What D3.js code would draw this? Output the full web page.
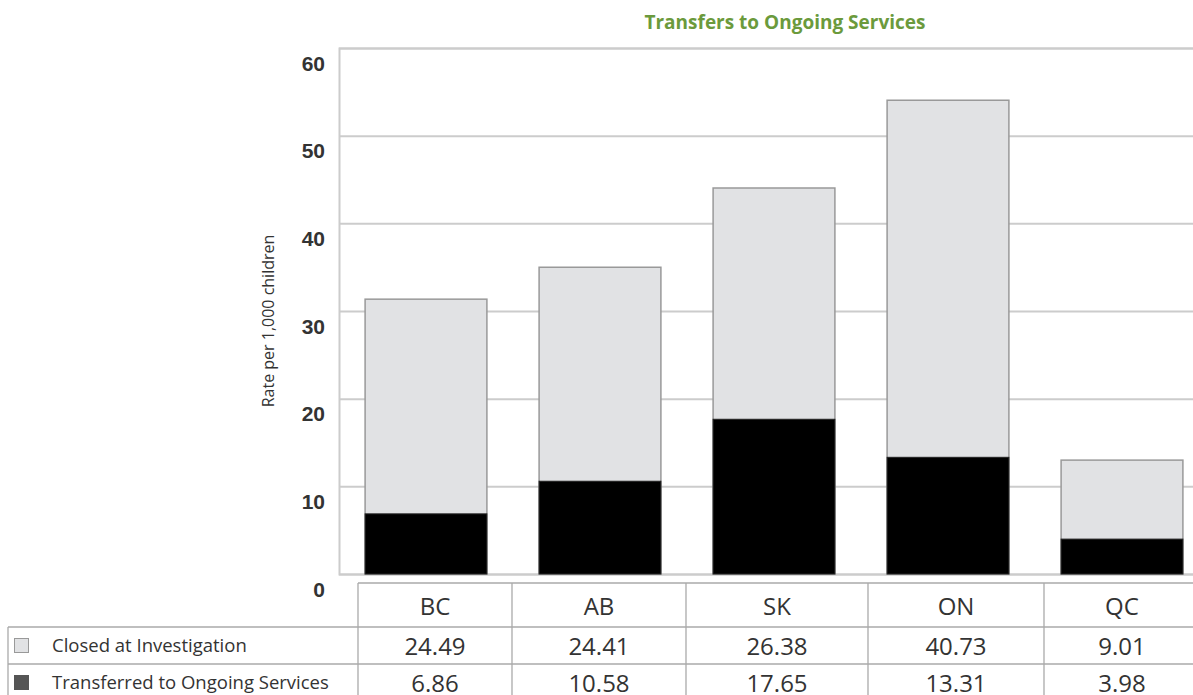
<!DOCTYPE html>
<html><head><meta charset="utf-8">
<script src="https://cdn.jsdelivr.net/npm/d3@7"></script>
<style>body{margin:0;background:#fff;} svg{display:block;font-family:"Open Sans",sans-serif;}</style>
</head><body>
<svg id="c" width="1193" height="695"></svg>
<script>
const categories = ["BC","AB","SK","ON","QC"];
const closedValues = [24.49, 24.41, 26.38, 40.73, 9.01];
const transferredValues = [6.86, 10.58, 17.65, 13.31, 3.98];
const seriesNames = ["Closed at Investigation","Transferred to Ongoing Services"];
const yTicks = [0,10,20,30,40,50,60];
const title = "Transfers to Ongoing Services";
const yLabel = "Rate per 1,000 children";

const svg = d3.select("#c");
const x = d3.scaleBand().domain(categories).range([339, 1209]).paddingInner(0.3).paddingOuter(0.15);
const y = d3.scaleLinear().domain([0,60]).range([574, 48]);

svg.append("text").attr("x",785).attr("y",29).attr("text-anchor","middle")
  .attr("font-size",19).attr("font-weight",700).attr("fill","#6b9a3c").text(title);

// grid
const yAxis = d3.axisLeft(y).tickValues(yTicks).tickSize(-(1193-339)).tickPadding(14);
const ga = svg.append("g").attr("transform","translate(339,0)").call(yAxis);
ga.select(".domain").attr("stroke","#cccccc").attr("stroke-width",2);
ga.selectAll(".tick line").attr("stroke","#cccccc").attr("stroke-width",2);
ga.selectAll(".tick text").attr("font-size",21).attr("font-weight",600).attr("fill","#333")
  .attr("dy","1.05em");

svg.append("text").attr("transform","translate(274,321) rotate(-90)").attr("text-anchor","middle")
  .attr("font-size",16).attr("fill","#333").text(yLabel);

const data = categories.map((c,i)=>({c, closed:closedValues[i], trans:transferredValues[i]}));
const bars = svg.append("g");
bars.selectAll("rect.closed").data(data).join("rect").attr("class","closed")
  .attr("x",d=>x(d.c)).attr("width",x.bandwidth())
  .attr("y",d=>y(d.closed+d.trans)).attr("height",d=>y(0)-y(d.closed+d.trans))
  .attr("fill","#e1e2e4").attr("stroke","#999").attr("stroke-width",1.5);
bars.selectAll("rect.trans").data(data).join("rect").attr("class","trans")
  .attr("x",d=>x(d.c)).attr("width",x.bandwidth())
  .attr("y",d=>y(d.trans)).attr("height",d=>y(0)-y(d.trans))
  .attr("fill","#000").attr("stroke","#222").attr("stroke-width",1);

// table
const colEdges = [358, 512, 686, 868, 1044, 1200];
const rowEdges = [583, 627, 664, 700];
const tl = svg.append("g").attr("stroke","#aaaaaa").attr("stroke-width",1.3);
tl.append("line").attr("x1",358).attr("x2",1193).attr("y1",rowEdges[0]).attr("y2",rowEdges[0]);
tl.append("line").attr("x1",8).attr("x2",1193).attr("y1",rowEdges[1]).attr("y2",rowEdges[1]);
tl.append("line").attr("x1",8).attr("x2",1193).attr("y1",rowEdges[2]).attr("y2",rowEdges[2]);
tl.append("line").attr("x1",8).attr("x2",8).attr("y1",rowEdges[1]).attr("y2",700);
colEdges.slice(0,5).forEach(cx=>{
  tl.append("line").attr("x1",cx).attr("x2",cx).attr("y1",rowEdges[0]).attr("y2",700);
});
const colCenter = i => (colEdges[i] + Math.min(colEdges[i+1],1200))/2;
categories.forEach((c,i)=>{
  svg.append("text").attr("x",colCenter(i)).attr("y",615).attr("text-anchor","middle")
    .attr("font-size",24).attr("fill","#333").text(c);
  svg.append("text").attr("x",colCenter(i)).attr("y",655).attr("text-anchor","middle")
    .attr("font-size",24).attr("fill","#333").text(closedValues[i].toFixed(2));
  svg.append("text").attr("x",colCenter(i)).attr("y",692).attr("text-anchor","middle")
    .attr("font-size",24).attr("fill","#333").text(transferredValues[i].toFixed(2));
});
// legend
svg.append("rect").attr("x",14.5).attr("y",638.5).attr("width",14).attr("height",14)
  .attr("fill","#e1e2e4").attr("stroke","#999");
svg.append("rect").attr("x",14).attr("y",675).attr("width",15).attr("height",15).attr("fill","#555");
svg.append("text").attr("x",52).attr("y",652).attr("font-size",18.5).attr("fill","#333").text(seriesNames[0]);
svg.append("text").attr("x",52).attr("y",689).attr("font-size",18.5).attr("fill","#333").text(seriesNames[1]);
</script>
</body></html>
